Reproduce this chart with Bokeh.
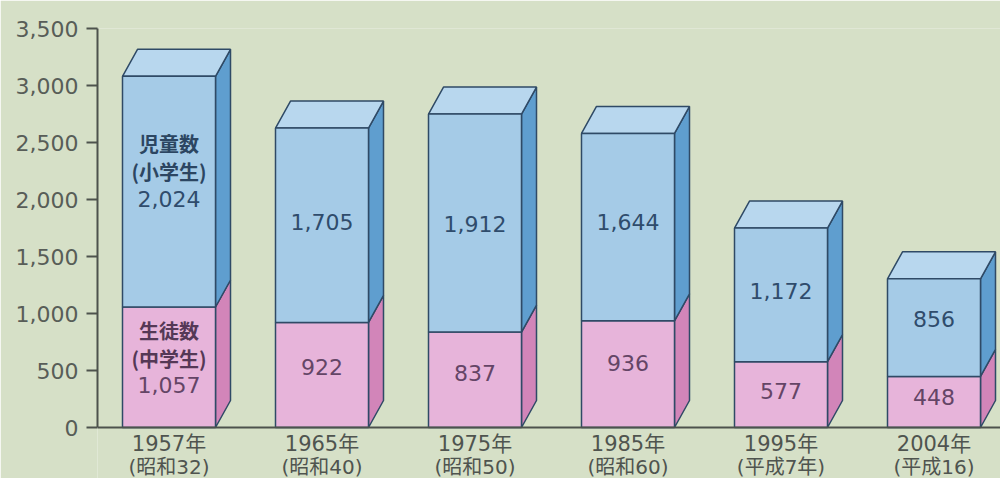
from bokeh.plotting import figure
from bokeh.models import Range1d, FixedTicker, NumeralTickFormatter, Span
from bokeh.core.properties import value
from bokeh.embed import file_html
from bokeh.resources import INLINE

# ---- data ----
years = ["1957年", "1965年", "1975年", "1985年", "1995年", "2004年"]
eras = ["(昭和32)", "(昭和40)", "(昭和50)", "(昭和60)", "(平成7年)", "(平成16)"]
junior = [1057, 922, 837, 936, 577, 448]          # 生徒数（中学生）
elementary = [2024, 1705, 1912, 1644, 1172, 856]  # 児童数（小学生）
y_ticks = [0, 500, 1000, 1500, 2000, 2500, 3000, 3500]
junior_name = ["生徒数", "(中学生)"]
elem_name = ["児童数", "(小学生)"]

# ---- styles / geometry ----
BG = "#d6e0c7"
EDGE = "#2f4a66"
PINK_FRONT = "#e7b4da"
PINK_SIDE = "#d285b9"
BLUE_FRONT = "#a5cbe7"
BLUE_SIDE = "#5f9ecf"
BLUE_TOP = "#b8d7ee"
PX_Y = 399 / 3500.0          # pixels per data unit (vertical)
PX_X = 153.0                 # pixels per category step
HW = 46.5 / PX_X             # half width of front face
DX = 15 / PX_X               # depth offset x
DY = 27 / PX_Y               # depth offset y
FW, FH = 1000, 478
TOP_B, LEFT_B = 28, 97
x_start = -(168.5 - LEFT_B) / PX_X
x_end = x_start + (FW - LEFT_B) / PX_X
y_start = -(FH - TOP_B - 399) / PX_Y

p = figure(width=FW, height=FH, output_backend="svg", toolbar_location=None,
           x_range=Range1d(x_start, x_end), y_range=Range1d(y_start, 3500),
           min_border_left=LEFT_B, min_border_right=0, min_border_top=TOP_B,
           min_border_bottom=0, background_fill_color=BG, border_fill_color=BG,
           outline_line_color=None)
p.xaxis.visible = False
p.xgrid.visible = False
p.ygrid.visible = False

ax = p.yaxis[0]
ax.ticker = FixedTicker(ticks=y_ticks)
ax.formatter = NumeralTickFormatter(format="0,0")
ax.bounds = (0, 3500)
ax.axis_line_color = "#4d524d"
ax.axis_line_width = 2
ax.major_tick_in = 0
ax.major_tick_out = 11
ax.major_tick_line_color = "#4d524d"
ax.major_tick_line_width = 2
ax.minor_tick_line_color = None
ax.major_label_text_font = "DejaVu Sans"
ax.major_label_text_font_size = "22px"
ax.major_label_text_color = "#585d58"
ax.major_label_standoff = 8

n = len(years)
xs = list(range(n))
totals = [j + e for j, e in zip(junior, elementary)]

# side and top faces
ps_xs, ps_ys, bs_xs, bs_ys, t_xs, t_ys = [], [], [], [], [], []
for i in xs:
    x0, x1 = i - HW, i + HW
    j, t = junior[i], totals[i]
    ps_xs.append([x1, x1 + DX, x1 + DX, x1]); ps_ys.append([0, DY, j + DY, j])
    bs_xs.append([x1, x1 + DX, x1 + DX, x1]); bs_ys.append([j, j + DY, t + DY, t])
    t_xs.append([x0, x0 + DX, x1 + DX, x1]); t_ys.append([t, t + DY, t + DY, t])

p.patches(ps_xs, ps_ys, fill_color=PINK_SIDE, line_color=EDGE, line_width=1.5)
p.patches(bs_xs, bs_ys, fill_color=BLUE_SIDE, line_color=EDGE, line_width=1.5)
p.patches(t_xs, t_ys, fill_color=BLUE_TOP, line_color=EDGE, line_width=1.5)

p.vbar(x=xs, width=2 * HW, bottom=0, top=junior, fill_color=PINK_FRONT,
       line_color=EDGE, line_width=1.5)
p.vbar(x=xs, width=2 * HW, bottom=junior, top=totals, fill_color=BLUE_FRONT,
       line_color=EDGE, line_width=1.5)

p.add_layout(Span(location=0, dimension="width", line_color="#4d524d", line_width=2))

# value labels (vertical offsets in px relative to segment middle)
pink_off_px = [-18, 8, 7, 11, 4, 5]
blue_off_px = [-7, 3, -1, 5, 4, 9]
pink_y = [j / 2 + o / PX_Y for j, o in zip(junior, pink_off_px)]
blue_y = [j + e / 2 + o / PX_Y for j, e, o in zip(junior, elementary, blue_off_px)]
num_font = value("DejaVu Sans")
p.text(x=xs, y=pink_y, text=[f"{v:,}" for v in junior], text_align="center",
       text_baseline="middle", text_font=num_font, text_font_size="22px",
       text_color="#644566")
p.text(x=xs, y=blue_y, text=[f"{v:,}" for v in elementary], text_align="center",
       text_baseline="middle", text_font=num_font, text_font_size="22px",
       text_color="#2f4c6c")

# series names on first bar
cjk = value("Noto Sans CJK JP")
name_dy_px = [-55, -27]
p.text(x=[0, 0], y=[blue_y[0] - d / PX_Y for d in name_dy_px], text=elem_name,
       text_align="center", text_baseline="middle", text_font=cjk,
       text_font_size="20px", text_font_style="bold", text_color="#2c4662")
p.text(x=[0, 0], y=[pink_y[0] - d / PX_Y for d in name_dy_px], text=junior_name,
       text_align="center", text_baseline="middle", text_font=cjk,
       text_font_size="20px", text_font_style="bold", text_color="#553856")

# category labels
lab_font = value("DejaVu Sans, 'Noto Sans CJK JP'")
p.text(x=xs, y=[-16 / PX_Y] * n, text=years, text_align="center",
       text_baseline="middle", text_font=lab_font, text_font_size="21px",
       text_color="#4f544f")
p.text(x=xs, y=[-39 / PX_Y] * n, text=eras, text_align="center",
       text_baseline="middle", text_font=lab_font, text_font_size="20px",
       text_color="#4f544f")

open("out.html", "w").write(file_html(p, INLINE))
